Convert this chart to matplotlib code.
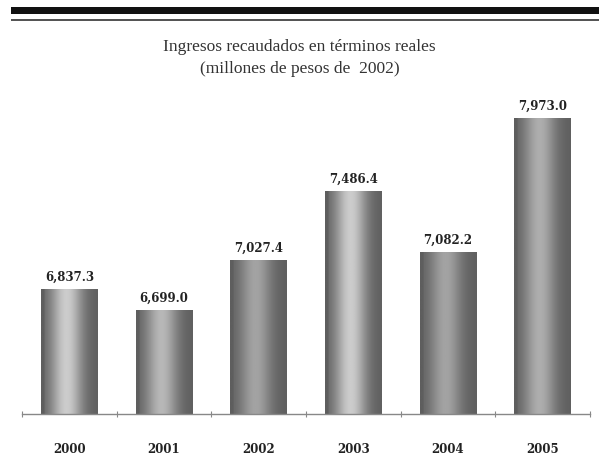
import matplotlib
matplotlib.use("Agg")
import matplotlib.pyplot as plt
import numpy as np
from matplotlib.patches import Rectangle

years = ["2000", "2001", "2002", "2003", "2004", "2005"]
values = [6837.3, 6699.0, 7027.4, 7486.4, 7082.2, 7973.0]
labels = ["6,837.3", "6,699.0", "7,027.4", "7,486.4", "7,082.2", "7,973.0"]
title = "Ingresos recaudados en términos reales\n(millones de pesos de  2002)"
peaks = [0.80, 0.72, 0.64, 0.80, 0.64, 0.68]

fig = plt.figure(figsize=(5.99, 4.77), dpi=100)
fig.patch.set_facecolor("white")

# top rules
fig.add_artist(Rectangle((11/599, 1 - 14.5/477), 1, 7/477, transform=fig.transFigure,
                         facecolor="#111111", edgecolor="none"))
fig.add_artist(Rectangle((11/599, 1 - 22/477), 1, 1.8/477, transform=fig.transFigure,
                         facecolor="#555555", edgecolor="none"))

ax = fig.add_axes([22/599, 1 - 415/477, (590 - 22)/599, (415 - 100)/477])
x = np.arange(len(years))
width = 0.6
ymin, ymax = 6010, 8100
ax.set_xlim(-0.5, len(years) - 0.5)
ax.set_ylim(ymin, ymax)

bars = ax.bar(x, values, width=width, bottom=0, color="none", edgecolor="none")
t = np.linspace(0, 1, 256)
for b, pk, lab in zip(bars, peaks, labels):
    lo = 0.37
    prof = lo + (pk - lo) * np.exp(-((t - 0.45) / 0.28) ** 2)
    prof[t < 0.06] = lo
    grad = np.tile(prof, (2, 1))
    x0 = b.get_x()
    ax.imshow(grad, cmap="gray", vmin=0, vmax=1, aspect="auto",
              extent=(x0, x0 + b.get_width(), ymin, b.get_height()),
              interpolation="bilinear", zorder=2)
    ax.text(b.get_x() + b.get_width() / 2, b.get_height() + 45, lab,
            ha="center", va="bottom", fontsize=8.5, fontweight="bold",
            family="DejaVu Serif", color="#222222")

ax.set_xlim(-0.5, len(years) - 0.5)
ax.set_ylim(ymin, ymax)
for s in ["top", "right", "left"]:
    ax.spines[s].set_visible(False)
ax.spines["bottom"].set_color("#888888")
ax.spines["bottom"].set_linewidth(1.0)
ax.set_yticks([])
ax.set_xticks(np.arange(-0.5, len(years), 1.0))
ax.set_xticklabels([])
ax.tick_params(axis="x", direction="inout", length=5, color="#888888", width=0.8)
for xi, yr in zip(x, years):
    ax.text(xi, -0.11, yr, transform=ax.get_xaxis_transform(), ha="center", va="center",
            fontsize=8.5, fontweight="bold", family="DejaVu Serif", color="#222222")

fig.text(0.5, 1 - 58/477, title, ha="center", va="center", fontsize=12.5,
         family="Liberation Serif", color="#333333", linespacing=1.55)

fig.savefig("out.png", dpi=100, facecolor="white")
